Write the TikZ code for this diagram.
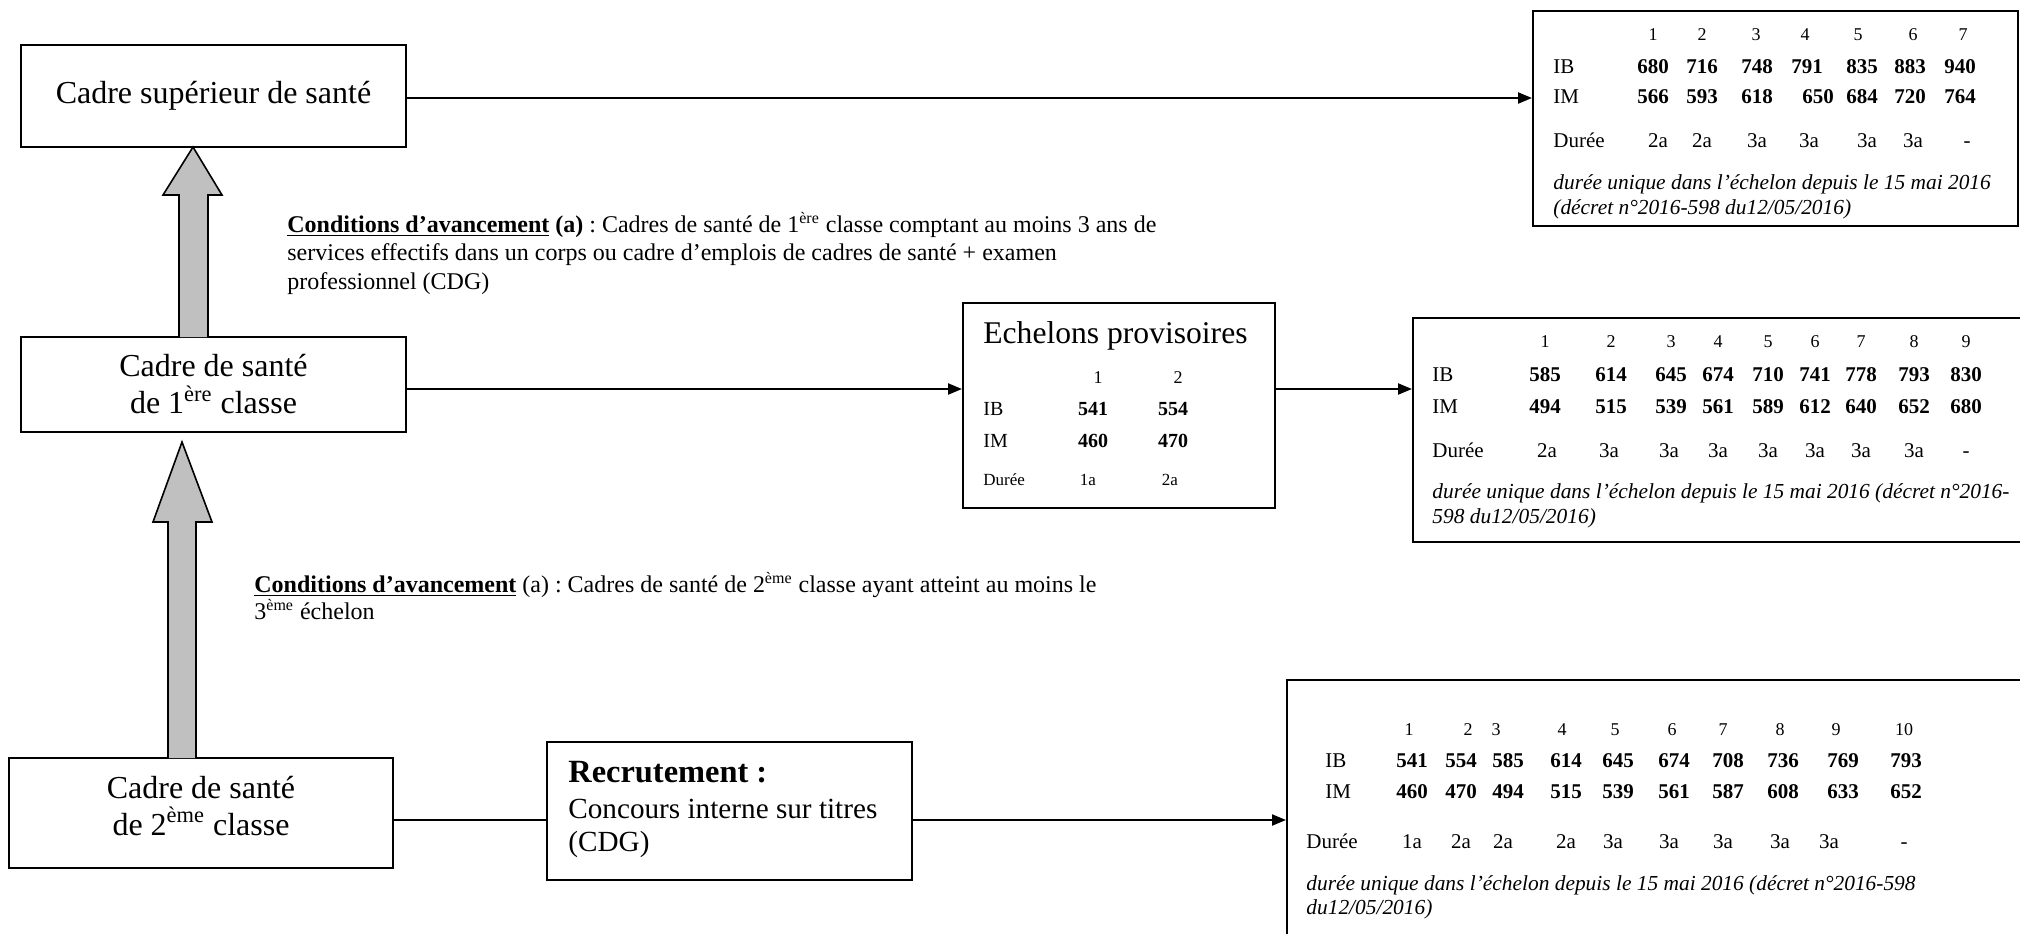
\documentclass[tikz,border=0pt]{standalone}
\usepackage{fontspec}
\setmainfont{Liberation Serif}
\usetikzlibrary{arrows.meta}
\definecolor{arrowgray}{RGB}{192,192,192}
\frenchspacing
\begin{document}
\begin{tikzpicture}[x=0.5pt,y=-0.5pt,
  box/.style={draw, line width=1pt, inner sep=0pt},
  conn/.style={line width=1.1pt, -{Triangle[length=7pt,width=5.5pt]}},
  plain/.style={line width=1.1pt},
  blockarrow/.style={draw, line width=0.8pt, fill=arrowgray},
  bigtxt/.style={font=\fontsize{16pt}{18.5pt}\selectfont, align=center},
  lbl/.style={anchor=base west, inner sep=0pt, font=\fontsize{10.5pt}{12pt}\selectfont},
  hd/.style={anchor=base, inner sep=0pt, font=\fontsize{9pt}{10pt}\selectfont},
  val/.style={anchor=base, inner sep=0pt, font=\fontsize{10.5pt}{12pt}\selectfont\bfseries},
  dur/.style={anchor=base, inner sep=0pt, font=\fontsize{10.5pt}{12pt}\selectfont},
  note/.style={anchor=base west, inner sep=0pt, font=\fontsize{10.7pt}{12pt}\selectfont\itshape},
  cond/.style={anchor=base west, inner sep=0pt, align=left}
]
\clip (0,0) rectangle (2020,933);

% ---------- left boxes ----------
\node[box, minimum width=192.5pt, minimum height=51pt, bigtxt] (b1) at (213.5,96) {Cadre supérieur de santé};
\node[box, minimum width=192.5pt, minimum height=47.5pt, bigtxt] (b2) at (213.5,384.5) {Cadre de santé\\de 1\textsuperscript{ère} classe};
\node[box, minimum width=192pt, minimum height=55pt] (b3) at (201,813) {};
\node[bigtxt, inner sep=0pt] (b3t) at (201,806) {Cadre de santé\\de 2\textsuperscript{ème} classe};

% ---------- block arrows ----------
\path[blockarrow] (179,337) -- (179,195) -- (163,195) -- (193,147) -- (222,195) -- (208,195) -- (208,337);
\path[blockarrow] (168,758) -- (168,522) -- (153,522) -- (182,442) -- (212,522) -- (196,522) -- (196,758);

% ---------- conditions ----------
\node[cond, font=\fontsize{12pt}{14.25pt}\selectfont] (c1) at (287,289)
 {\underline{\textbf{Conditions d’avancement}} \textbf{(a)} : Cadres de santé de 1\textsuperscript{ère} classe comptant au moins 3 ans de\\
  services effectifs dans un corps ou cadre d’emplois de cadres de santé + examen\\
  professionnel (CDG)};
\node[cond, font=\fontsize{12pt}{13.5pt}\selectfont] (c2) at (254,619)
 {\underline{\textbf{Conditions d’avancement}} (a) : Cadres de santé de 2\textsuperscript{ème} classe ayant atteint au moins le\\
  3\textsuperscript{ème} échelon};

% ---------- recrutement ----------
\node[box, minimum width=182.5pt, minimum height=69pt] (rec) at (729.5,811) {};
\node[anchor=base west, inner sep=0pt, font=\fontsize{16.2pt}{18pt}\selectfont\bfseries] (rect1) at (568,782) {Recrutement :};
\node[anchor=base west, inner sep=0pt, font=\fontsize{14.6pt}{16pt}\selectfont] (rect2) at (568,818) {Concours interne sur titres};
\node[anchor=base west, inner sep=0pt, font=\fontsize{14.6pt}{16pt}\selectfont] (rect3) at (568,851) {(CDG)};

% ---------- echelons provisoires ----------
\node[box, minimum width=156pt, minimum height=102.5pt] (ech) at (1119,405.5) {};
\node[anchor=base west, inner sep=0pt, font=\fontsize{15.8pt}{17pt}\selectfont] (echt) at (983,343) {Echelons provisoires};
\foreach \x [count=\i] in {1098,1178} \node[hd] (eh\i) at (\x,383) {\i};
\node[lbl, font=\fontsize{10pt}{11pt}\selectfont] (eib) at (983,415) {IB};
\node[lbl, font=\fontsize{10pt}{11pt}\selectfont] (eim) at (983,447) {IM};
\node[lbl, font=\fontsize{8.5pt}{10pt}\selectfont] (edu) at (983,485) {Durée};
\foreach \x/\v [count=\i] in {1093/541,1173/554} \node[val, font=\fontsize{10pt}{11pt}\selectfont\bfseries] (eibv\i) at (\x,415) {\v};
\foreach \x/\v [count=\i] in {1093/460,1173/470} \node[val, font=\fontsize{10pt}{11pt}\selectfont\bfseries] (eimv\i) at (\x,447) {\v};
\foreach \x/\v [count=\i] in {1088/1a,1170/2a} \node[dur, font=\fontsize{8.5pt}{10pt}\selectfont] (eduv\i) at (\x,485) {\v};

% ---------- top table ----------
\node[box, minimum width=242.5pt, minimum height=107.5pt] (tt) at (1775.5,118.5) {};
\foreach \x [count=\i] in {1653,1702,1756,1805,1858,1913,1963} \node[hd] (tth\i) at (\x,40) {\i};
\node[lbl] (ttib) at (1553,73) {IB};
\node[lbl] (ttim) at (1553,103) {IM};
\node[lbl] (ttdu) at (1553,147) {Durée};
\foreach \x/\v [count=\i] in {1653/680,1702/716,1757/748,1807/791,1862/835,1910/883,1960/940} \node[val] (ttibv\i) at (\x,73) {\v};
\foreach \x/\v [count=\i] in {1653/566,1702/593,1757/618,1818/650,1862/684,1910/720,1960/764} \node[val] (ttimv\i) at (\x,103) {\v};
\foreach \x/\v [count=\i] in {1658/2a,1702/2a,1757/3a,1809/3a,1867/3a,1913/3a,1967/-} \node[dur] (ttduv\i) at (\x,147) {\v};
\node[note] (ttn1) at (1553,189) {durée unique dans l’échelon depuis le 15 mai 2016};
\node[note] (ttn2) at (1553,214) {(décret n°2016-598 du12/05/2016)};

% ---------- middle table ----------
\node[box, minimum width=323.5pt, minimum height=112pt] (mt) at (1736.5,430) {};
\foreach \x [count=\i] in {1545,1611,1671,1718,1768,1815,1861,1914,1966} \node[hd] (mth\i) at (\x,347) {\i};
\node[lbl] (mtib) at (1432,381) {IB};
\node[lbl] (mtim) at (1432,413) {IM};
\node[lbl] (mtdu) at (1432,457) {Durée};
\foreach \x/\v [count=\i] in {1545/585,1611/614,1671/645,1718/674,1768/710,1815/741,1861/778,1914/793,1966/830} \node[val] (mtibv\i) at (\x,381) {\v};
\foreach \x/\v [count=\i] in {1545/494,1611/515,1671/539,1718/561,1768/589,1815/612,1861/640,1914/652,1966/680} \node[val] (mtimv\i) at (\x,413) {\v};
\foreach \x/\v [count=\i] in {1547/2a,1609/3a,1669/3a,1718/3a,1768/3a,1815/3a,1861/3a,1914/3a,1966/-} \node[dur] (mtduv\i) at (\x,457) {\v};
\node[note] (mtn1) at (1432,498) {durée unique dans l’échelon depuis le 15 mai 2016 (décret n°2016-};
\node[note] (mtn2) at (1432,523) {598 du12/05/2016)};

% ---------- bottom table ----------
\node[box, minimum width=386.5pt, minimum height=140pt] (bt) at (1673.5,820) {};
\foreach \x [count=\i] in {1409,1468,1496,1562,1615,1672,1723,1780,1836,1904} \node[hd] (bth\i) at (\x,735) {\i};
\node[lbl] (btib) at (1325,767) {IB};
\node[lbl] (btim) at (1325,798) {IM};
\node[lbl] (btdu) at (1306,848) {Durée};
\foreach \x/\v [count=\i] in {1412/541,1461/554,1508/585,1566/614,1618/645,1674/674,1728/708,1783/736,1843/769,1906/793} \node[val] (btibv\i) at (\x,767) {\v};
\foreach \x/\v [count=\i] in {1412/460,1461/470,1508/494,1566/515,1618/539,1674/561,1728/587,1783/608,1843/633,1906/652} \node[val] (btimv\i) at (\x,798) {\v};
\foreach \x/\v [count=\i] in {1412/1a,1461/2a,1503/2a,1566/2a,1613/3a,1669/3a,1723/3a,1780/3a,1829/3a,1904/-} \node[dur] (btduv\i) at (\x,848) {\v};
\node[note] (btn1) at (1306,890) {durée unique dans l’échelon depuis le 15 mai 2016 (décret n°2016-598};
\node[note] (btn2) at (1306,914) {du12/05/2016)};

% ---------- connectors ----------
\coordinate (y1) at (0,98);
\coordinate (y2) at (0,389);
\coordinate (y3) at (0,820);
\draw[conn] (b1.east |- y1) -- (tt.west |- y1);
\draw[conn] (b2.east |- y2) -- (ech.west |- y2);
\draw[conn] (ech.east |- y2) -- (mt.west |- y2);
\draw[plain] (b3.east |- y3) -- (rec.west |- y3);
\draw[conn] (rec.east |- y3) -- (bt.west |- y3);
\end{tikzpicture}
\end{document}
